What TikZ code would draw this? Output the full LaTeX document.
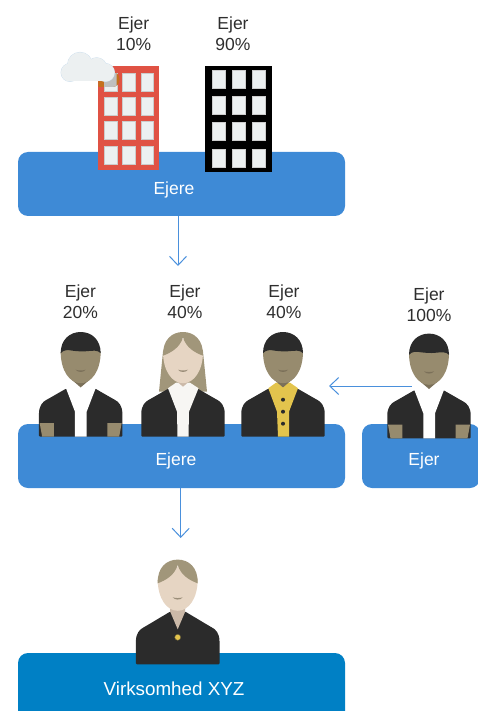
\documentclass[tikz,border=0pt]{standalone}
\usepackage{fontspec}
\setmainfont{Liberation Sans}
\usetikzlibrary{arrows.meta}
\definecolor{boxblue}{HTML}{3E8AD6}
\definecolor{firmblue}{HTML}{0080C5}
\definecolor{linkblue}{HTML}{4A90DC}
\definecolor{jacketgrey}{HTML}{2B2B2B}
\definecolor{skintan}{HTML}{978B6E}
\definecolor{chintan}{HTML}{7B7059}
\definecolor{skinpale}{HTML}{E6D5C3}
\definecolor{neckpale}{HTML}{CBB9A8}
\definecolor{hairpale}{HTML}{A1967A}
\definecolor{shirtyellow}{HTML}{E3C44D}
\definecolor{shirtwhite}{HTML}{F7F6F3}
\definecolor{buildred}{HTML}{E05244}
\definecolor{winpale}{HTML}{ECF0F1}
\definecolor{cloudedge}{HTML}{CFE0EE}
\definecolor{shadeorange}{HTML}{C4701E}
\tikzset{
  ownerbox/.style={fill=boxblue, rounded corners=10pt, inner sep=0pt, minimum height=64pt},
  boxtext/.style={text=white, font=\fontsize{17.5}{21}\selectfont},
  share/.style={text=black!82, align=center, inner sep=0pt, font=\fontsize{17.5}{21}\selectfont},
  conn/.style={draw=linkblue, line width=1pt, -{Straight Barb[length=9pt,width=17pt,line width=1pt]}},
  windowpane/.style={fill=winpale, draw=black!20, line width=.4pt},
}
\newcommand{\jacket}{
  \fill[jacketgrey, rounded corners=1pt] (-41.7,0) -- (-41.7,-22) .. controls (-41.7,-31) and (-38,-35) .. (-33,-37.5) -- (-14.7,-48) -- (14.7,-48) -- (33,-37.5) .. controls (38,-35) and (41.7,-31) .. (41.7,-22) -- (41.7,0) -- cycle;
}
\newcommand{\manface}{
  \fill[chintan] (-9,-57) -- (0,-49.3) -- (9,-57) -- cycle;
  \fill[skintan] (-20,-85) .. controls (-20,-66) and (-11,-53.5) .. (0,-53.5) .. controls (11,-53.5) and (20,-66) .. (20,-85) -- (0,-95) -- cycle;
  \fill[jacketgrey] (-20,-83.5) .. controls (-20,-97) and (-11,-104.7) .. (0,-104.7) .. controls (11,-104.7) and (20,-97) .. (20,-83.5) .. controls (17,-87) and (12,-86) .. (6,-85.5) .. controls (2,-85) and (-4,-85.5) .. (-8,-86) .. controls (-13,-87) and (-17,-87) .. (-20,-83.5) -- cycle;
  \fill[chintan] (-5,-67) .. controls (-2,-66) and (2,-66) .. (5,-67) .. controls (3,-64) and (-3,-64) .. (-5,-67) -- cycle;
}
\newcommand{\paleface}{
  \fill[skinpale] (-20,-85) .. controls (-20,-66) and (-11,-53.5) .. (0,-53.5) .. controls (11,-53.5) and (20,-66) .. (20,-85) -- (0,-98) -- cycle;
  \fill[hairpale] (-20,-81) .. controls (-20.5,-97) and (-11,-104.7) .. (0,-104.7) .. controls (11,-104.7) and (20.5,-97) .. (20,-81) .. controls (12,-84) and (3,-89) .. (0,-99.5) .. controls (-3,-89) and (-12,-84) .. (-20,-81) -- cycle;
  \fill[chintan!70!skinpale] (-5,-67) .. controls (-2,-66) and (2,-66) .. (5,-67) .. controls (3,-64) and (-3,-64) .. (-5,-67) -- cycle;
}
\tikzset{
  pics/manwhite/.style={code={
    \jacket
    \fill[skintan] (-41,-13.7) -- (-26.7,-13.7) -- (-26.7,0) -- (-38.5,0) -- cycle;
    \fill[skintan] (41,-13.7) -- (26.7,-13.7) -- (26.7,0) -- (38.5,0) -- cycle;
    \fill[white] (-14.7,-48.5) -- (-5.7,-25) -- (-5.7,0) -- (6,0) -- (6,-25) -- (15,-48.5) -- (0,-54) -- cycle;
    \manface
    \coordinate (-neck) at (-17.3,-52.3);
  }},
  pics/manyellow/.style={code={
    \jacket
    \fill[shirtyellow] (-14.7,-48.5) -- (-6,-25) -- (-5,0) -- (6,0) -- (6,-25) -- (15,-48.5) -- (7,-54) -- (-7,-54) -- cycle;
    \foreach \by in {-37,-25,-13} \fill[jacketgrey] (0,\by) circle (2);
    \manface
    \coordinate (-east) at (46,-50.7);
  }},
  pics/womanwhite/.style={code={
    \fill[hairpale] (-20,-85) -- (-24,-45) -- (24,-45) -- (20,-85) -- cycle;
    \jacket
    \fill[shirtwhite] (-15,-48.5) -- (-6,-25) -- (-5.5,0) -- (5.5,0) -- (6,-25) -- (15.5,-48.5) -- (7,-54) -- (-7,-54) -- cycle;
    \fill[neckpale] (-7,-56) -- (0,-50) -- (7,-56) -- cycle;
    \paleface
  }},
  pics/boss/.style={code={
    \fill[jacketgrey, rounded corners=1pt] (-41.8,0) -- (-41.8,-22) .. controls (-41.8,-31) and (-38,-35) .. (-33,-37.5) -- (-7.5,-52.7) -- (7.5,-52.7) -- (33,-37.5) .. controls (38,-35) and (41.8,-31) .. (41.8,-22) -- (41.8,0) -- cycle;
    \fill[neckpale] (-7.5,-56) -- (-7.5,-52.7) -- (0,-35) -- (7.5,-52.7) -- (7.5,-56) -- cycle;
    \fill[shirtyellow, draw=jacketgrey!70!shirtyellow, line width=.4pt] (0,-27) circle (3);
    \paleface
  }},
}
\begin{document}
\begin{tikzpicture}[x=1pt,y=-1pt]
  \useasboundingbox (0,0) rectangle (478,711);

  % boxes
  \node[ownerbox, minimum width=327pt] (ejereTop) at (181.5,184) {};
  \node[ownerbox, minimum width=327pt] (ejereMid) at (181.5,456) {};
  \node[ownerbox, minimum width=118pt] (ejerRight) at (421,456) {};
  \node[ownerbox, minimum width=327pt, minimum height=80pt, fill=firmblue] (firm) at (181.5,693) {};
  \node[boxtext] (ejereTopText) at (174,189.5) {Ejere};
  \node[boxtext] (ejereMidText) at (176,460.5) {Ejere};
  \node[boxtext] (ejerRightText) at (424,460.5) {Ejer};
  \node[boxtext, font=\fontsize{18.8}{21}\selectfont] (firmText) at (174,689) {Virksomhed XYZ};

  % shares
  \node[share] (shareA) at (133.7,34) {Ejer\\10\%};
  \node[share] (shareB) at (233,34) {Ejer\\90\%};
  \node[share] (shareC) at (80.5,302) {Ejer\\20\%};
  \node[share] (shareD) at (185,302) {Ejer\\40\%};
  \node[share] (shareE) at (284,302) {Ejer\\40\%};
  \node[share] (shareF) at (429,305) {Ejer\\100\%};

  % buildings
  \fill[buildred] (98.3,66) rectangle (159,170);
  \foreach \wx in {104,122.3,140.7}
    \foreach \wy in {73.3,97,121.3,146}
      \draw[windowpane] (\wx,\wy) rectangle ++(12.7,18);
  \fill[black] (205,66) rectangle (272,172);
  \foreach \wx in {212,232,252}
    \foreach \wy in {70.3,96.7,122.7,149.3}
      \draw[windowpane] (\wx,\wy) rectangle ++(13,18);

  % cloud and its shadow
  \begin{scope}
    \clip (98.3,66) rectangle (159,170);
    \fill[shadeorange, rounded corners=7pt] (90,72) rectangle (119.5,87);
  \end{scope}
  \begin{scope}
    \clip (104,73.3) rectangle ++(12.7,18);
    \fill[black!25, rounded corners=7pt] (90,72) rectangle (119.5,87);
  \end{scope}
  \foreach \c/\r in {{70,72.5}/9,{80,64.8}/12.5,{96.7,67.7}/10,{105.5,72.5}/9}
    \draw[cloudedge, fill=cloudedge, line width=.8pt] (\c) circle (\r);
  \foreach \c/\r in {{70,72.5}/9,{80,64.8}/12.5,{96.7,67.7}/10,{105.5,72.5}/9}
    \fill[winpale] (\c) circle (\r);
  \fill[winpale] (70,70) rectangle (105.5,81.5);

  % people
  \pic (ownerC) at (80.67,436.7) {manwhite};
  \pic (ownerD) at (183,436.7) {womanwhite};
  \pic (ownerE) at (283,436.7) {manyellow};
  \pic (ownerF) at (429,438.3) {manwhite};
  \pic (head) at (177.7,664.3) {boss};

  % arrows
  \coordinate (arrowTop) at (178,266);
  \coordinate (arrowMid) at (180.7,538);
  \draw[conn] (arrowTop |- ejereTop.south) -- (arrowTop);
  \draw[conn] (arrowMid |- ejereMid.south) -- (arrowMid);
  \draw[conn] (ownerF-neck) -- (ownerE-east);
\end{tikzpicture}
\end{document}
